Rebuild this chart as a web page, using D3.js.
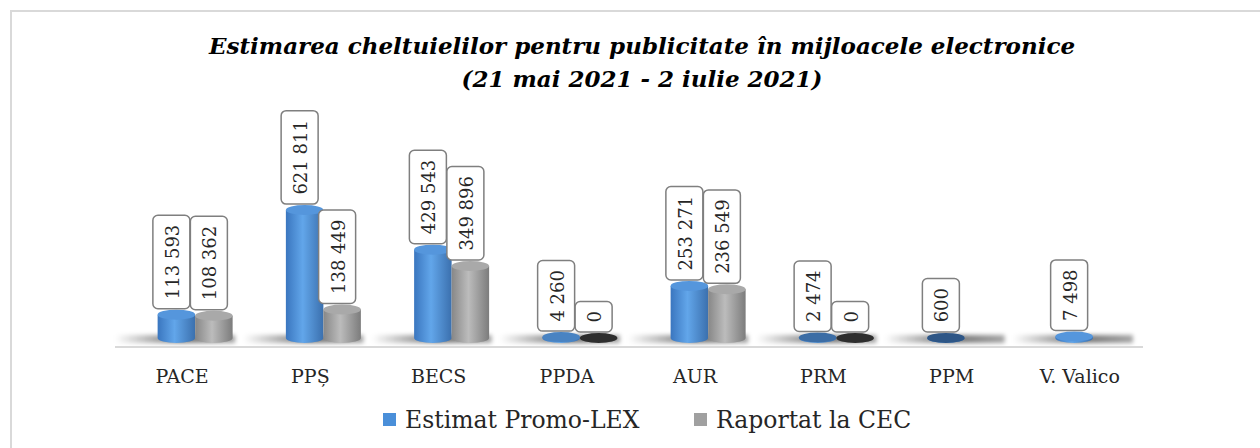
<!DOCTYPE html>
<html>
<head>
<meta charset="utf-8">
<script src="https://cdn.jsdelivr.net/npm/d3@7"></script>
<style>
  html, body { margin: 0; padding: 0; background: #fff; }
  svg { display: block; }
</style>
</head>
<body>
<svg id="chart" width="1260" height="448"></svg>
<script>
// date
var categories = ["PACE", "PPȘ", "BECS", "PPDA", "AUR", "PRM", "PPM", "V. Valico"];
var seriesNames = ["Estimat Promo-LEX", "Raportat la CEC"];
var estimat  = [113593, 621811, 429543, 4260, 253271, 2474, 600, 7498];
var raportat = [108362, 138449, 349896, 0, 236549, 0, null, null];
var titleLines = ["Estimarea cheltuielilor pentru publicitate în mijloacele electronice",
                  "(21 mai 2021 - 2 iulie 2021)"];

var svg = d3.select("#chart");
var W = 1260, H = 448;
var ry = 5;          // ellipse height of cylinder caps
var perspective = 13; // labels sit a bit left of the bars

var fmt = d3.formatLocale({ decimal: ",", thousands: " ", grouping: [3], currency: ["", ""] }).format(",d");

// scales
var x = d3.scaleBand().domain(categories).range([131, 1157]).padding(0);
var xs = d3.scaleBand().domain([0, 1]).range([-37.5, 37.5]).padding(0);
var y = d3.scaleLinear().domain([0, 700000]).range([338, 194]);

var colors = [
  { left: "#3a76bf", mid: "#62a6ea", right: "#3b70ae", cap: "#5596dc", dark: "#2a4f7c" },
  { left: "#878787", mid: "#bcbcbc", right: "#7c7c7c", cap: "#a9a9a9", dark: "#2e2e2e" }
];

var defs = svg.append("defs");
colors.forEach(function (c, i) {
  var g = defs.append("linearGradient").attr("id", "body" + i)
    .attr("x1", "0%").attr("x2", "100%").attr("y1", "0%").attr("y2", "0%");
  g.append("stop").attr("offset", "0%").attr("stop-color", c.left);
  g.append("stop").attr("offset", "45%").attr("stop-color", c.mid);
  g.append("stop").attr("offset", "100%").attr("stop-color", c.right);
});
var sg = defs.append("linearGradient").attr("id", "shadowGrad")
  .attr("x1", "0%").attr("x2", "100%");
sg.append("stop").attr("offset", "0%").attr("stop-color", "#000").attr("stop-opacity", 0);
sg.append("stop").attr("offset", "55%").attr("stop-color", "#000").attr("stop-opacity", 0.55);
sg.append("stop").attr("offset", "100%").attr("stop-color", "#000").attr("stop-opacity", 0.35);
defs.append("filter").attr("id", "blur").attr("x", "-20%").attr("y", "-100%")
  .attr("width", "140%").attr("height", "300%")
  .append("feGaussianBlur").attr("stdDeviation", 2);

// frame
svg.append("rect")
  .attr("x", 11).attr("y", 11).attr("width", W + 20).attr("height", H + 20)
  .attr("fill", "none").attr("stroke", "#d9d9d9").attr("stroke-width", 2);

// title
svg.append("g").selectAll("text").data(titleLines).enter().append("text")
  .attr("x", 642).attr("y", function (d, i) { return 54 + i * 33; })
  .attr("text-anchor", "middle")
  .style("font-family", "'DejaVu Serif', serif")
  .style("font-weight", "bold").style("font-style", "italic")
  .style("font-size", "23px").attr("fill", "#000")
  .text(function (d) { return d; });

// floor shadows
var plot = svg.append("g");
plot.append("g").selectAll("rect").data(categories).enter().append("rect")
  .attr("x", function (d) { return x(d) + x.bandwidth() / 2 - 80; })
  .attr("y", y(0) - 3).attr("width", 120).attr("height", 8)
  .attr("fill", "url(#shadowGrad)").attr("filter", "url(#blur)");

// floor line
plot.append("line")
  .attr("x1", 115).attr("x2", 1143).attr("y1", 347).attr("y2", 347)
  .attr("stroke", "#d9d9d9").attr("stroke-width", 2);

// build the bar records
var bars = [];
categories.forEach(function (c, i) {
  [estimat[i], raportat[i]].forEach(function (v, s) {
    if (v === null) return;
    bars.push({ cat: c, s: s, v: v });
  });
});

function cx(d) { return x(d.cat) + x.bandwidth() / 2 + xs(d.s) + xs.bandwidth() / 2; }

var bar = plot.append("g").selectAll("g").data(bars).enter().append("g");

bar.append("path")
  .attr("d", function (d) {
    var x0 = cx(d) - xs.bandwidth() / 2, x1 = cx(d) + xs.bandwidth() / 2;
    var rx = xs.bandwidth() / 2;
    return "M" + x0 + "," + y(d.v) + "L" + x0 + "," + y(0) +
      "A" + rx + "," + ry + " 0 0 0 " + x1 + "," + y(0) +
      "L" + x1 + "," + y(d.v) + "Z";
  })
  .attr("fill", function (d) { return "url(#body" + d.s + ")"; });

bar.append("ellipse")
  .attr("cx", cx).attr("cy", function (d) { return y(d.v); })
  .attr("rx", xs.bandwidth() / 2).attr("ry", ry)
  .attr("fill", function (d) {
    var h = y(0) - y(d.v);
    var t = Math.min(1, h / 1.2);
    return d3.interpolateRgb(colors[d.s].dark, colors[d.s].cap)(t);
  });

// data labels
var lab = plot.append("g").selectAll("g").data(bars).enter().append("g");
lab.append("rect").attr("class", "box");
lab.append("text")
  .style("font-family", "'DejaVu Serif', serif")
  .style("font-size", "18px").attr("fill", "#262626")
  .attr("text-anchor", "middle").attr("dominant-baseline", "central")
  .text(function (d) { return fmt(d.v); });

lab.each(function (d) {
  var g = d3.select(this);
  var len = g.select("text").node().getComputedTextLength();
  var bw = 37, bh = len + 19;
  var bx = cx(d) - 5;
  var bottom = y(d.v) - ry - 1;
  g.select("rect")
    .attr("x", bx - bw / 2).attr("y", bottom - bh)
    .attr("width", bw).attr("height", bh)
    .attr("rx", 5).attr("fill", "#fff")
    .attr("stroke", "#7f7f7f").attr("stroke-width", 1.5);
  g.select("text")
    .attr("transform", "translate(" + (bx + 1) + "," + (bottom - bh / 2) + ") rotate(-90)");
});

// category axis
var axis = d3.axisBottom(x).tickSize(0).tickPadding(0);
var ax = svg.append("g")
  .attr("transform", "translate(" + (-perspective) + ",369)")
  .call(axis);
ax.select(".domain").remove();
ax.selectAll("text")
  .attr("dy", "0.75em")
  .style("font-family", "'DejaVu Serif', serif")
  .style("font-size", "19px").attr("fill", "#262626");

// legend
var legend = svg.append("g").attr("transform", "translate(383,413)");
var li = legend.selectAll("g").data(seriesNames).enter().append("g")
  .attr("transform", function (d, i) { return "translate(" + (i * 311) + ",0)"; });
li.append("rect").attr("width", 13).attr("height", 13)
  .attr("fill", function (d, i) { return i === 0 ? "#4a8fd9" : "#a0a0a0"; });
li.append("text")
  .attr("x", 22).attr("y", 15)
  .style("font-family", "'DejaVu Serif', serif")
  .style("font-size", "23.5px").attr("fill", "#262626")
  .text(function (d) { return d; });
</script>
</body>
</html>
